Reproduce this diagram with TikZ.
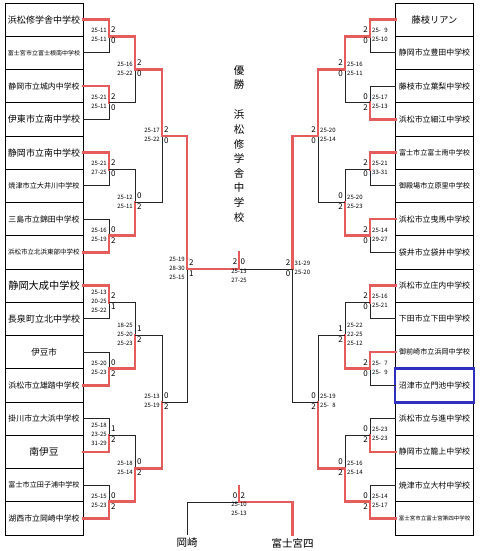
\documentclass[tikz,border=0pt]{standalone}
\usepackage{fontspec}
\setmainfont{Noto Sans CJK JP}
\usetikzlibrary{positioning,fit}

\definecolor{winred}{RGB}{228,92,92}
\definecolor{markblue}{RGB}{48,48,190}
\newcommand{\fs}[1]{\fontsize{#1}{#1}\selectfont}
% one match: winner, loser, junction
\newcommand{\bout}[3]{\draw[lose] (#2) -| (#3); \draw[win] (#1) -| (#3);}
% results, left half / right half
\newcommand{\lres}[3]{\node[sets, left=1pt of #1, align=right] (s#1) {#2}; \node[pts, right=1pt of #1] (n#1) {#3};}
\newcommand{\rres}[3]{\node[sets, right=1pt of #1, align=left] (s#1) {#2}; \node[pts, left=1pt of #1] (n#1) {#3};}

\tikzset{
  team/.style={draw, line width=0.8pt, minimum width=78pt, minimum height=33.25pt, inner sep=0pt, outer sep=0pt},
  win/.style={draw=winred, line width=2.6pt, line cap=rect},
  lose/.style={draw=black!85, line width=0.9pt},
  sets/.style={font=\fontsize{6}{9}\selectfont, inner sep=1pt, align=center, yshift=1pt},
  pts/.style={font=\fontsize{8}{11}\selectfont, inner sep=1pt, align=center, yshift=1pt},
  title/.style={font=\fontsize{10.5}{14.6}\selectfont, align=center, inner sep=0pt},
}

\begin{document}
\begin{tikzpicture}[x=1pt, y=-1pt]
    \useasboundingbox (0,0) rectangle (480,551);
    % left column
    \node[team, font=\fs{9}] (L0) at (44,19.625) {浜松修学舎中学校};
    \node[team, font=\fs{6}, below=0pt of L0] (L1) {富士宮市立富士根南中学校};
    \node[team, font=\fs{7.9}, below=0pt of L1] (L2) {静岡市立城内中学校};
    \node[team, font=\fs{9}, below=0pt of L2] (L3) {伊東市立南中学校};
    \node[team, font=\fs{9}, below=0pt of L3] (L4) {静岡市立南中学校};
    \node[team, font=\fs{7.1}, below=0pt of L4] (L5) {焼津市立大井川中学校};
    \node[team, font=\fs{7.9}, below=0pt of L5] (L6) {三島市立錦田中学校};
    \node[team, font=\fs{6.5}, below=0pt of L6] (L7) {浜松市立北浜東部中学校};
    \node[team, font=\fs{10.2}, below=0pt of L7] (L8) {静岡大成中学校};
    \node[team, font=\fs{9}, below=0pt of L8] (L9) {長泉町立北中学校};
    \node[team, font=\fs{8.5}, below=0pt of L9] (L10) {伊豆市};
    \node[team, font=\fs{7.9}, below=0pt of L10] (L11) {浜松市立雄踏中学校};
    \node[team, font=\fs{7.9}, below=0pt of L11] (L12) {掛川市立大浜中学校};
    \node[team, font=\fs{9.7}, below=0pt of L12] (L13) {南伊豆};
    \node[team, font=\fs{7.1}, below=0pt of L13] (L14) {富士市立田子浦中学校};
    \node[team, font=\fs{7.9}, below=0pt of L14] (L15) {湖西市立岡崎中学校};
    % right column
    \node[team, font=\fs{9.2}] (R0) at (434.5,19.625) {藤枝リアン};
    \node[team, font=\fs{7.9}, below=0pt of R0] (R1) {静岡市立豊田中学校};
    \node[team, font=\fs{7.9}, below=0pt of R1] (R2) {藤枝市立葉梨中学校};
    \node[team, font=\fs{7.9}, below=0pt of R2] (R3) {浜松市立細江中学校};
    \node[team, font=\fs{7.1}, below=0pt of R3] (R4) {富士市立富士南中学校};
    \node[team, font=\fs{7.1}, below=0pt of R4] (R5) {御殿場市立原里中学校};
    \node[team, font=\fs{7.9}, below=0pt of R5] (R6) {浜松市立曳馬中学校};
    \node[team, font=\fs{7.9}, below=0pt of R6] (R7) {袋井市立袋井中学校};
    \node[team, font=\fs{7.9}, below=0pt of R7] (R8) {浜松市立庄内中学校};
    \node[team, font=\fs{7.9}, below=0pt of R8] (R9) {下田市立下田中学校};
    \node[team, font=\fs{7.1}, below=0pt of R9] (R10) {御前崎市立浜岡中学校};
    \node[team, font=\fs{7.9}, below=0pt of R10] (R11) {沼津市立門池中学校};
    \node[team, font=\fs{7.9}, below=0pt of R11] (R12) {浜松市立与進中学校};
    \node[team, font=\fs{7.9}, below=0pt of R12] (R13) {静岡市立籠上中学校};
    \node[team, font=\fs{7.9}, below=0pt of R13] (R14) {焼津市立大村中学校};
    \node[team, font=\fs{5.5}, below=0pt of R14] (R15) {富士宮市立富士宮第四中学校};
    \node[draw=markblue, line width=2.6pt, inner sep=0.4pt, fit=(R11)] (pick) {};

    % left junctions
    \coordinate (a1) at (109,36.25);
    \coordinate (a2) at (109,102.75);
    \coordinate (a3) at (109,169.25);
    \coordinate (a4) at (109,235.75);
    \coordinate (a5) at (109,302.25);
    \coordinate (a6) at (109,368.75);
    \coordinate (a7) at (109,435.25);
    \coordinate (a8) at (109,501.75);
    \coordinate (b1) at (135,69.5);
    \coordinate (b2) at (135,202.5);
    \coordinate (b3) at (135,335.5);
    \coordinate (b4) at (135,468.5);
    \coordinate (c1) at (162,136);
    \coordinate (c2) at (162,402);
    \coordinate (sL) at (187,269);
    % right junctions
    \coordinate (p1) at (370,36.25);
    \coordinate (p2) at (370,102.75);
    \coordinate (p3) at (370,169.25);
    \coordinate (p4) at (370,235.75);
    \coordinate (p5) at (370,302.25);
    \coordinate (p6) at (370,368.75);
    \coordinate (p7) at (370,435.25);
    \coordinate (p8) at (370,501.75);
    \coordinate (q1) at (345,69.5);
    \coordinate (q2) at (345,202.5);
    \coordinate (q3) at (345,335.5);
    \coordinate (q4) at (345,468.5);
    \coordinate (r1) at (318,136);
    \coordinate (r2) at (318,402);
    \coordinate (sR) at (292.5,269);
    \coordinate (fin) at (239,269);
    \coordinate (cup) at (239,252);

    % left half
    \bout{L0.east}{L1.east}{a1}
    \bout{L2.east}{L3.east}{a2}
    \bout{L4.east}{L5.east}{a3}
    \bout{L7.east}{L6.east}{a4}
    \bout{L8.east}{L9.east}{a5}
    \bout{L11.east}{L10.east}{a6}
    \bout{L13.east}{L12.east}{a7}
    \bout{L15.east}{L14.east}{a8}
    \bout{a1}{a2}{b1}
    \bout{a4}{a3}{b2}
    \bout{a6}{a5}{b3}
    \bout{a8}{a7}{b4}
    \bout{b1}{b2}{c1}
    \bout{b4}{b3}{c2}
    \bout{c1}{c2}{sL}
    % right half
    \bout{R0.west}{R1.west}{p1}
    \bout{R3.west}{R2.west}{p2}
    \bout{R4.west}{R5.west}{p3}
    \bout{R6.west}{R7.west}{p4}
    \bout{R8.west}{R9.west}{p5}
    \bout{R10.west}{R11.west}{p6}
    \bout{R13.west}{R12.west}{p7}
    \bout{R15.west}{R14.west}{p8}
    \bout{p1}{p2}{q1}
    \bout{p4}{p3}{q2}
    \bout{p6}{p5}{q3}
    \bout{p8}{p7}{q4}
    \bout{q1}{q2}{r1}
    \bout{q4}{q3}{r2}
    \bout{r1}{r2}{sR}
    % final
    \draw[lose] (sR) -- (fin);
    \draw[win] (sL) -- (fin) -- (cup);

    % results
    \lres{a1}{25-11\\25-11}{2\\0}
    \lres{a2}{25-21\\25-11}{2\\0}
    \lres{a3}{25-21\\27-25}{2\\0}
    \lres{a4}{25-16\\25-19}{0\\2}
    \lres{a5}{25-13\\20-25\\25-22}{2\\1}
    \lres{a6}{25-20\\25-23}{0\\2}
    \lres{a7}{25-18\\23-25\\31-29}{1\\2}
    \lres{a8}{25-15\\25-23}{0\\2}
    \lres{b1}{25-16\\25-22}{2\\0}
    \lres{b2}{25-12\\25-11}{0\\2}
    \lres{b3}{18-25\\25-20\\25-23}{1\\2}
    \lres{b4}{25-18\\25-14}{0\\2}
    \lres{c1}{25-17\\25-22}{2\\0}
    \lres{c2}{25-13\\25-19}{0\\2}
    \lres{sL}{25-19\\28-30\\25-15}{2\\1}
    \rres{p1}{25-\phantom{0}9\\25-10}{2\\0}
    \rres{p2}{25-17\\25-13}{0\\2}
    \rres{p3}{25-21\\33-31}{2\\0}
    \rres{p4}{25-14\\29-27}{2\\0}
    \rres{p5}{25-16\\25-21}{2\\0}
    \rres{p6}{25-\phantom{0}7\\25-\phantom{0}9}{2\\0}
    \rres{p7}{25-23\\25-23}{0\\2}
    \rres{p8}{25-14\\25-17}{0\\2}
    \rres{q1}{25-16\\25-11}{2\\0}
    \rres{q2}{25-20\\25-23}{0\\2}
    \rres{q3}{25-22\\22-25\\25-12}{1\\2}
    \rres{q4}{25-16\\25-14}{0\\2}
    \rres{r1}{25-20\\25-14}{2\\0}
    \rres{r2}{25-19\\25-\phantom{0}8}{0\\2}
    \rres{sR}{31-29\\25-20}{2\\0}
    \node[pts, above left=2pt and 0.5pt of fin] (nf1) {2};
    \node[pts, above right=2pt and 0.5pt of fin] (nf2) {0};
    \node[sets, below=0pt of fin] (sf) {25-13\\27-25};

    % champion
    \node[title] (yusho) at (239,77.5) {優\\勝};
    \node[title] (champ) at (239,166) {浜\\松\\修\\学\\舎\\中\\学\\校};

    % third place
    \node[font=\fs{10.5}] (oka) at (187,543) {岡崎};
    \node[font=\fs{10.5}] (fyon) at (292.5,543) {富士宮四};
    \coordinate (th) at (239,502);
    \coordinate (thtop) at (239,486);
    \draw[lose] (oka.north) |- (th);
    \draw[win] (fyon.north) |- (th) -- (thtop);
    \node[pts, above left=1pt and 0.5pt of th] (nt1) {0};
    \node[pts, above right=1pt and 0.5pt of th] (nt2) {2};
    \node[sets, below=0pt of th] (st) {25-10\\25-13};
\end{tikzpicture}
\end{document}
